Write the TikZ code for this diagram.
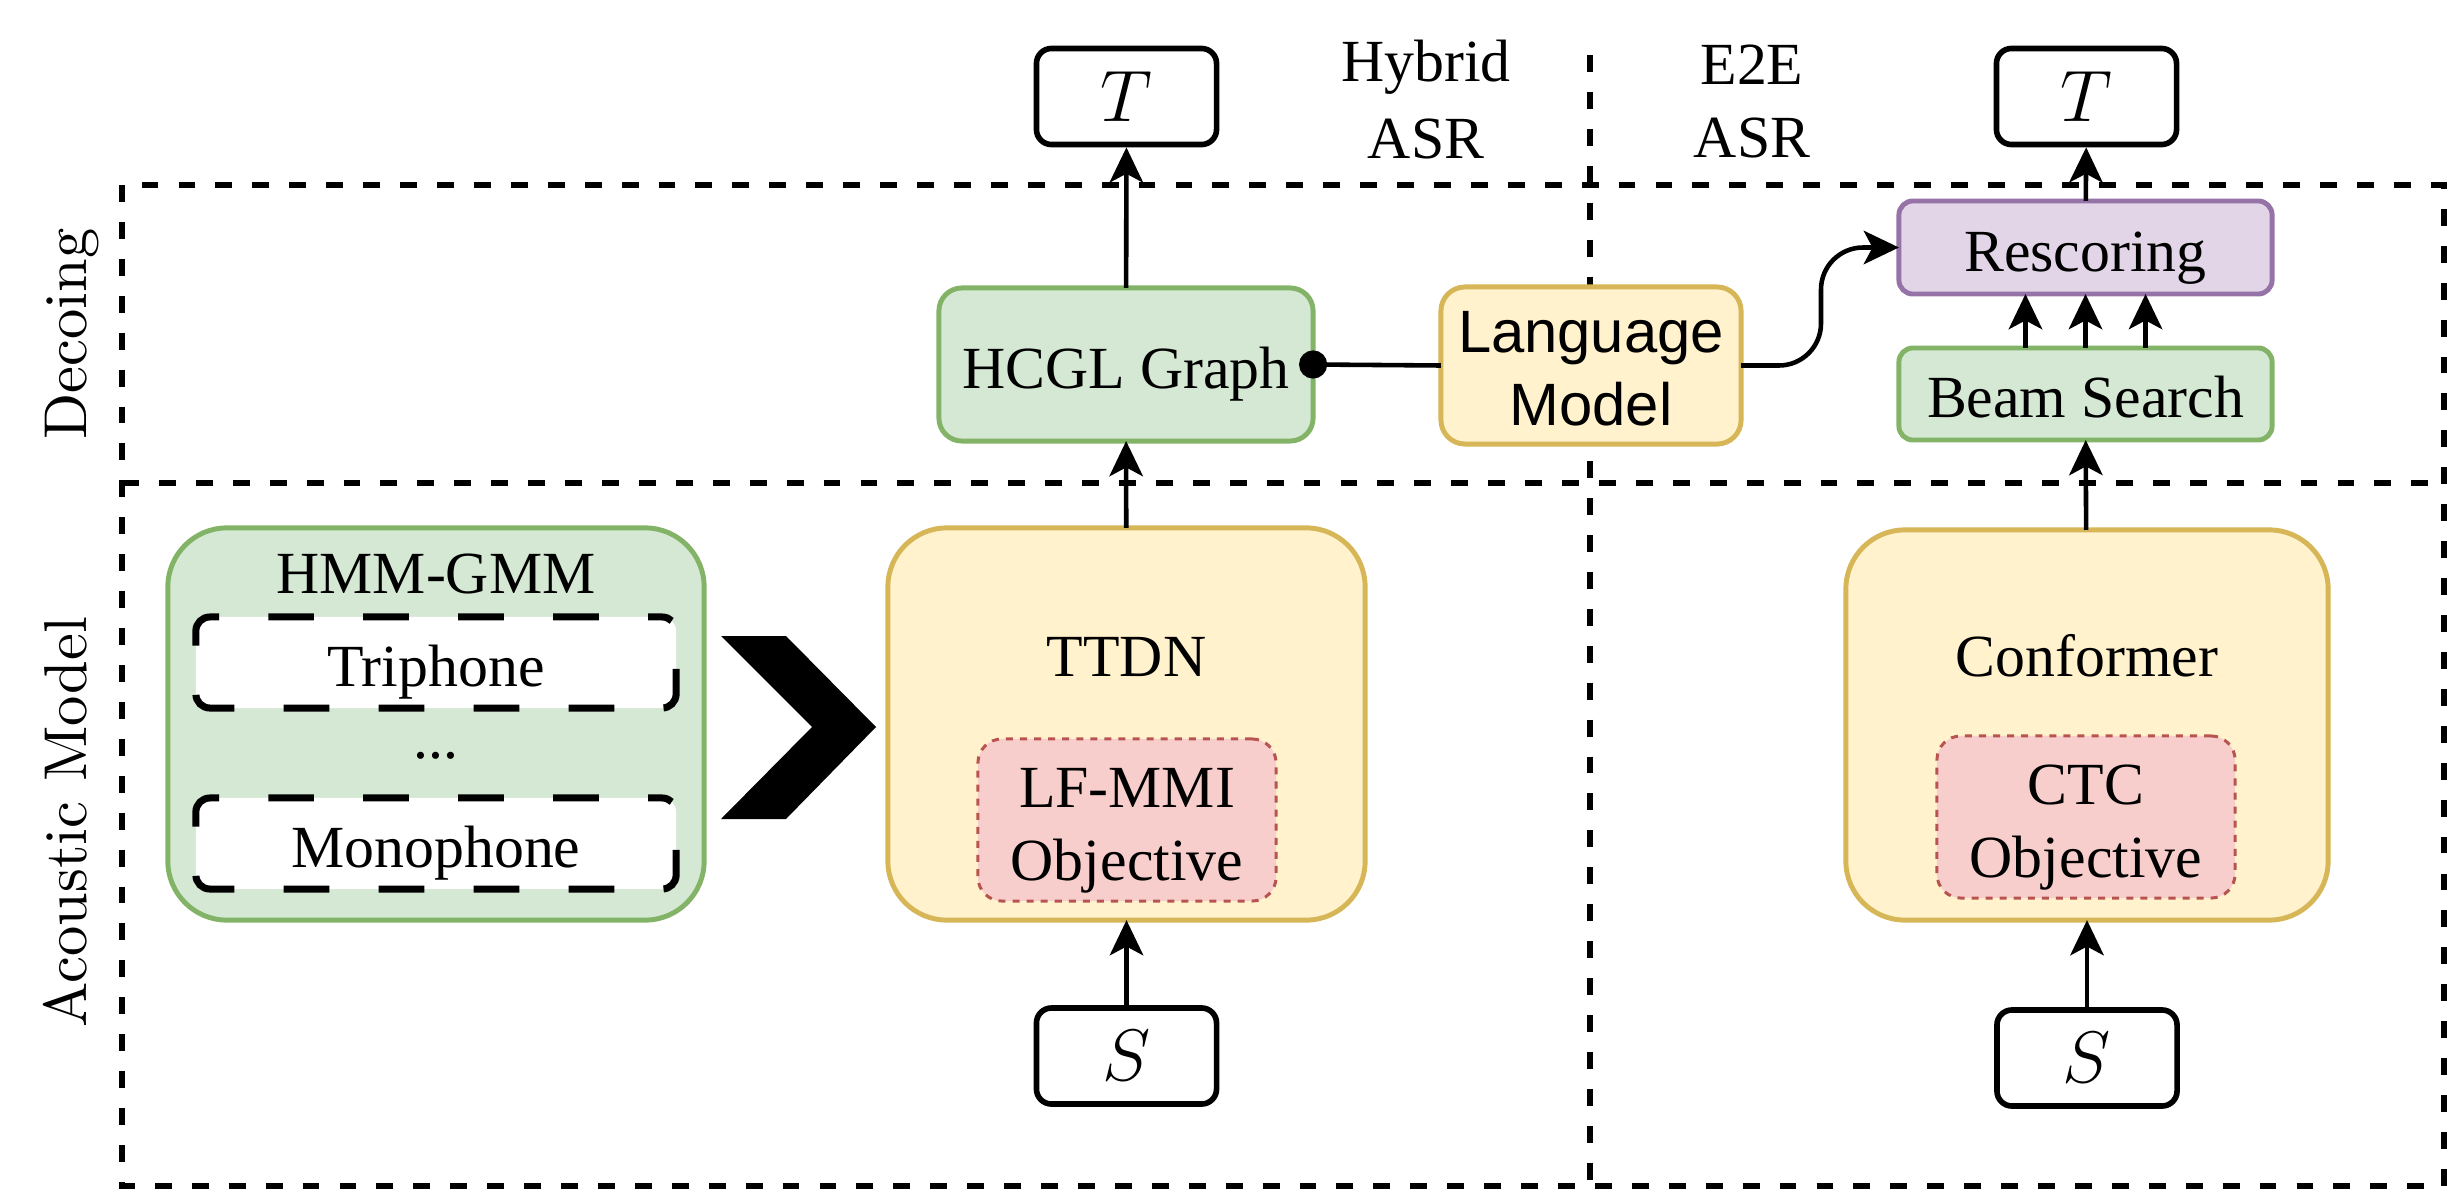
\documentclass[tikz,border=0pt]{standalone}
\usepackage{fontspec}
\newfontfamily\tnr{Liberation Serif}
\newfontfamily\arl{Liberation Sans}
\newfontfamily\lmten{lmroman10-regular}[Extension=.otf]
\usetikzlibrary{arrows.meta}
\newcommand\tstrut{\rule[-3.6pt]{0pt}{20.8pt}}
\definecolor{gfill}{HTML}{D5E8D4}
\definecolor{gdraw}{HTML}{82B366}
\definecolor{yfill}{HTML}{FFF2CC}
\definecolor{ydraw}{HTML}{D6B656}
\definecolor{rfill}{HTML}{F8CECC}
\definecolor{rdraw}{HTML}{B85450}
\definecolor{pfill}{HTML}{E1D5E7}
\definecolor{pdraw}{HTML}{9673A6}
\tikzset{
  lbl/.style={inner sep=0pt, outer sep=0pt, align=center, font=\tnr\fontsize{17}{20.8}\selectfont},
  gbox/.style={lbl, draw=gdraw, fill=gfill, line width=1.4pt},
  ybox/.style={lbl, draw=ydraw, fill=yfill, line width=1.4pt},
  pbox/.style={lbl, draw=pdraw, fill=pfill, line width=1.4pt},
  rbox/.style={lbl, draw=rdraw, fill=rfill, line width=0.85pt, dash pattern=on 2pt off 2pt,
               minimum width=2.98cm, minimum height=1.62cm, rounded corners=0.24cm},
  tbox/.style={inner sep=0pt, draw=black, fill=white, line width=1.6pt, minimum width=1.8cm,
               minimum height=0.96cm, rounded corners=0.15cm, font=\fontsize{21}{25}\selectfont},
  phone/.style={lbl, draw=black, fill=white, line width=2pt, dash pattern=on 13pt off 14pt,
               dash phase=9pt, minimum width=4.8cm, minimum height=0.91cm, rounded corners=0.14cm},
  region/.style={line width=1.7pt, dash pattern=on 4.8pt off 5.7pt},
  side/.style={rotate=90, anchor=base, inner sep=0pt, font=\lmten\fontsize{17.2}{20}\selectfont},
  arr/.style={line width=1.3pt, -{Stealth[length=10pt, width=9.5pt, inset=2.5pt]}},
}
\begin{document}
\begin{tikzpicture}[x=0.01cm, y=-0.01cm]
\useasboundingbox (0,0) rectangle (2451,1197);

% regions
\draw[region] (122,185) rectangle (2444,1186);
\draw[region] (122,483) -- (2444,483);
\draw[region] (1590,55) -- (1590,1186);
\node[side] (dec) at (86,334) {Decoing};
\node[side] (am) at (86,822) {Acoustic Model};
\node[lbl] (hyb) at (1426,96) {\tstrut Hybrid\\\tstrut ASR};
\node[lbl] (e2e) at (1752,97) {\tstrut E2E\\\tstrut ASR};

% hybrid column
\node[tbox] (TL) at (1126.5,96.5) {$T$};
\node[gbox, minimum width=3.74cm, minimum height=1.53cm, rounded corners=0.23cm] (HCGL) at (1126,364.5) {\tstrut HCGL Graph};
\node[ybox, minimum width=4.77cm, minimum height=3.92cm, rounded corners=0.59cm] (TTDN) at (1126.5,724) {};
\node[lbl] (TTDNl) at (1126.5,653) {\tstrut TTDN};
\node[rbox] (LFMMI) at (1127,820) {\tstrut LF-MMI\\\tstrut Objective};
\node[tbox] (SL) at (1126.5,1056) {$S$};

% HMM-GMM
\node[gbox, minimum width=5.36cm, minimum height=3.92cm, rounded corners=0.59cm] (HMM) at (436,724) {};
\node[lbl] (HMMl) at (436,570) {\tstrut HMM-GMM};
\node[phone] (TRI) at (436,662.5) {\tstrut Triphone};
\node[lbl] (DOTS) at (436,735) {\tstrut ...};
\node[phone] (MONO) at (436,843.5) {\tstrut Monophone};
\fill (721,636) -- (786,636) -- (876,727) -- (786,819) -- (721,819) -- (812,727) -- cycle;

% language model
\node[ybox, font=\arl\fontsize{17}{20.8}\selectfont, minimum width=3.0cm, minimum height=1.57cm, rounded corners=0.24cm] (LM) at (1591,365.5) {\tstrut Language\\\tstrut Model};

% E2E column
\node[tbox] (TR) at (2086.5,96.5) {$T$};
\node[pbox, minimum width=3.73cm, minimum height=0.93cm, rounded corners=0.14cm] (RES) at (2085.5,247.5) {\tstrut Rescoring};
\node[gbox, minimum width=3.73cm, minimum height=0.92cm, rounded corners=0.14cm] (BS) at (2085.5,394) {\tstrut Beam Search};
\node[ybox, minimum width=4.82cm, minimum height=3.9cm, rounded corners=0.59cm] (CONF) at (2087,725) {};
\node[lbl] (CONFl) at (2087,653) {\tstrut Conformer};
\node[rbox] (CTC) at (2086,817) {\tstrut CTC\\\tstrut Objective};
\node[tbox] (SR) at (2087,1058) {$S$};

% connectors
\draw[arr] (SL) -- (TTDN);
\draw[arr] (TTDN) -- (HCGL);
\draw[arr] (HCGL) -- (TL);
\draw[line width=1.3pt, {Circle[length=8pt, width=8pt]}-, shorten <=-4pt] (HCGL.east) -- (LM.west);
\draw[arr, rounded corners=0.42cm] (LM.east) -- (1821,365.5) -- (1821,247.5) -- (RES.west);
\draw[arr] ([xshift=-0.6cm]BS.north) -- ([xshift=-0.6cm]RES.south);
\draw[arr] (BS.north) -- (RES.south);
\draw[arr] ([xshift=0.6cm]BS.north) -- ([xshift=0.6cm]RES.south);
\draw[arr] (CONF) -- (BS);
\draw[arr] (RES) -- (TR);
\draw[arr] (SR) -- (CONF);
\end{tikzpicture}
\end{document}
